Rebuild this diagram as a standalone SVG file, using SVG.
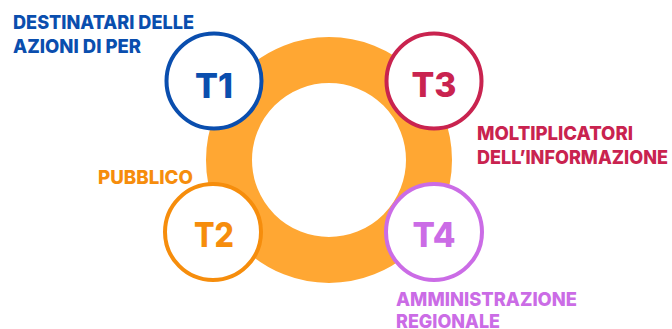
<svg xmlns="http://www.w3.org/2000/svg" width="672" height="329" viewBox="0 0 672 329">
  <style>
    .ring { fill: none; stroke: #FFA733; stroke-width: 46; }
    .node { fill: #FFFFFF; stroke-width: 4; }
    .num { font-family: Inter, "Noto Sans", "DejaVu Sans", sans-serif; font-weight: 800; font-size: 34px; text-anchor: middle; }
    .lbl { font-family: Inter, "Noto Sans", "DejaVu Sans", sans-serif; font-weight: 800; font-size: 19px; }
    .blue { fill: #0A4EAE; } .blueS { stroke: #0A4EAE; }
    .red { fill: #C9234F; } .redS { stroke: #C9234F; }
    .orange { fill: #F68D0C; } .orangeS { stroke: #F68D0C; }
    .purple { fill: #CB6CE6; } .purpleS { stroke: #CB6CE6; }
  </style>
  <rect width="672" height="329" fill="#FFFFFF"/>
  <g id="ring">
    <circle class="ring" cx="329" cy="160" r="100"/>
  </g>
  <g id="connectors"></g>
  <g id="T1">
    <circle class="node blueS" cx="214" cy="81" r="47.5"/>
    <text class="num blue" x="214" y="98" textLength="38" lengthAdjust="spacingAndGlyphs">T1</text>
    <text class="lbl blue" x="13" y="29" textLength="181" lengthAdjust="spacingAndGlyphs">DESTINATARI DELLE</text>
    <text class="lbl blue" x="13" y="53" textLength="128" lengthAdjust="spacingAndGlyphs">AZIONI DI PER</text>
  </g>
  <g id="T3">
    <circle class="node redS" cx="434" cy="81" r="47.5"/>
    <text class="num red" x="434" y="97" textLength="45" lengthAdjust="spacingAndGlyphs">T3</text>
    <text class="lbl red" x="477" y="140" textLength="156" lengthAdjust="spacingAndGlyphs">MOLTIPLICATORI</text>
    <text class="lbl red" x="477" y="164" textLength="191" lengthAdjust="spacingAndGlyphs">DELL’INFORMAZIONE</text>
  </g>
  <g id="T2">
    <circle class="node orangeS" cx="213" cy="232" r="48"/>
    <text class="num orange" x="214" y="247" textLength="40" lengthAdjust="spacingAndGlyphs">T2</text>
    <text class="lbl orange" x="98" y="184" textLength="95" lengthAdjust="spacingAndGlyphs">PUBBLICO</text>
  </g>
  <g id="T4">
    <circle class="node purpleS" cx="434" cy="232" r="48"/>
    <text class="num purple" x="434" y="247" textLength="43" lengthAdjust="spacingAndGlyphs">T4</text>
    <text class="lbl purple" x="396" y="306" textLength="181" lengthAdjust="spacingAndGlyphs">AMMINISTRAZIONE</text>
    <text class="lbl purple" x="396" y="328" textLength="104" lengthAdjust="spacingAndGlyphs">REGIONALE</text>
  </g>
</svg>
